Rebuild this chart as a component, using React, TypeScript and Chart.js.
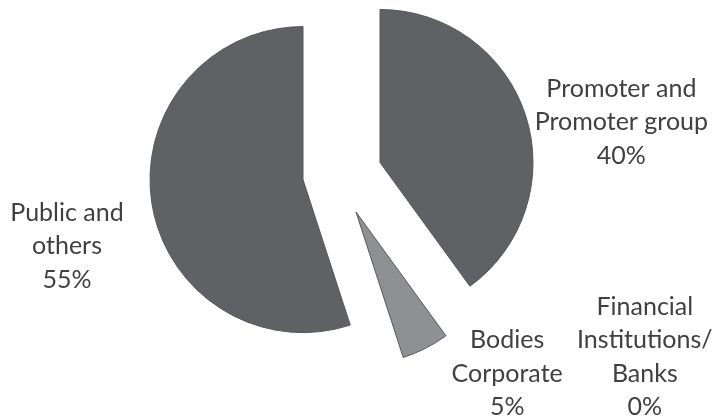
import React, { useEffect, useRef } from "react";
import { Chart, registerables } from "chart.js";

Chart.register(...registerables);

const categories: string[][] = [
  ["Promoter and", "Promoter group"],
  ["Financial", "Institutions/", "Banks"],
  ["Bodies", "Corporate"],
  ["Public and", "others"],
];
const shares: number[] = [40, 0, 5, 55];

const sliceColors = ["#5f6165", "#5f6165", "#8e9094", "#5f6165"];
// explode displacement of each slice (px)
const explode: [number, number][] = [
  [29, -9.5],
  [0, 0],
  [5, 40],
  [-48, 7.6],
];
const labelNudges: [number, number][] = [
  [2, 26],
  [157, -3],
  [51, -30],
  [-17, 33],
];

const explodePlugin = {
  id: "explodeSlices",
  afterDatasetsUpdate(chart: any) {
    const meta = chart.getDatasetMeta(0);
    meta.data.forEach((arc: any, i: number) => {
      arc.x += explode[i][0];
      arc.y += explode[i][1];
    });
  },
};

const labelPlugin = {
  id: "outsideLabels",
  afterDatasetsDraw(chart: any) {
    const ctx = chart.ctx as CanvasRenderingContext2D;
    const meta = chart.getDatasetMeta(0);
    const fontSize = 25;
    const lineH = 33.5;
    const gap = 12;
    ctx.save();
    ctx.font = `${fontSize}px Lato`;
    ctx.fillStyle = "#404040";
    ctx.textAlign = "center";
    ctx.textBaseline = "middle";
    meta.data.forEach((arc: any, i: number) => {
      const p = arc.getProps(["x", "y", "startAngle", "endAngle", "outerRadius"], true);
      const mid = (p.startAngle + p.endAngle) / 2;
      const lines = [...categories[i], `${shares[i]}%`];
      const w = Math.max(...lines.map((l) => ctx.measureText(l).width));
      const h = lines.length * lineH;
      const ax = p.x + Math.cos(mid) * (p.outerRadius + gap);
      const ay = p.y + Math.sin(mid) * (p.outerRadius + gap);
      const cx = ax + (Math.cos(mid) * w) / 2 + labelNudges[i][0];
      const cy = ay + (Math.sin(mid) * h) / 2 + labelNudges[i][1];
      const top = cy - h / 2 + lineH / 2;
      lines.forEach((l, k) => ctx.fillText(l, cx, top + k * lineH));
    });
    ctx.restore();
  },
};

export default function App() {
  const ref = useRef<HTMLCanvasElement | null>(null);
  useEffect(() => {
    if (!ref.current) return;
    const chart = new Chart(ref.current, {
      type: "pie",
      data: {
        labels: categories.map((c) => c.join(" ")),
        datasets: [
          {
            data: shares,
            backgroundColor: sliceColors,
            borderColor: "#55575b",
            borderWidth: [1, 0, 1, 1],
          },
        ],
      },
      options: {
        animation: false,
        responsive: false,
        events: [],
        radius: 153,
        layout: { padding: { left: 0, top: 0, right: 14, bottom: 74 } },
        plugins: { legend: { display: false }, tooltip: { enabled: false } },
      } as any,
      plugins: [explodePlugin, labelPlugin],
    });
    return () => chart.destroy();
  }, []);
  return (
    <div style={{ position: "fixed", left: 0, top: 0, width: 716, height: 418, background: "#fff" }}>
      <canvas ref={ref} width={716} height={418} />
    </div>
  );
}
